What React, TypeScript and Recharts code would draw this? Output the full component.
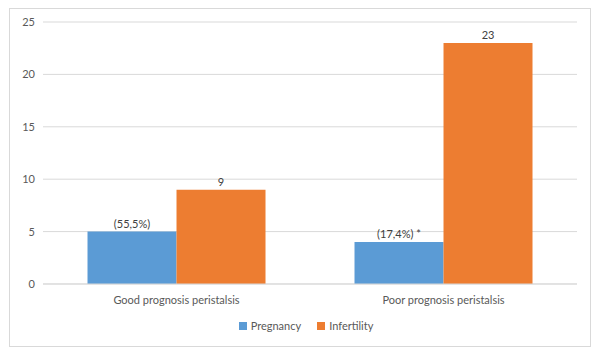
import { Bar, BarChart, CartesianGrid, LabelList, XAxis, YAxis } from "recharts";

const categories = ["Good prognosis peristalsis", "Poor prognosis peristalsis"];
const pregnancy = [5, 4];
const infertility = [9, 23];
const pregnancyLabels = ["(55,5%)", "(17,4%) *"];
const yTicks = [0, 5, 10, 15, 20, 25];
const series = [
  { key: "Pregnancy", color: "#5B9BD5" },
  { key: "Infertility", color: "#ED7D31" }
];

const data = categories.map((name, i) => ({
  name,
  Pregnancy: pregnancy[i],
  Infertility: infertility[i],
  pregLabel: pregnancyLabels[i]
}));

const font = "Lato, 'Liberation Sans', sans-serif";
const textColor = "#595959";

export default function App() {
  return (
    <div style={{ position: "absolute", left: 0, top: 0, width: 600, height: 356, background: "#fff", fontFamily: font }}>
      <div
        style={{
          position: "absolute",
          left: 9,
          top: 8,
          width: 580,
          height: 337,
          border: "1px solid #d9d9d9"
        }}
      />
      <div style={{ position: "absolute", left: 0, top: 0 }}>
        <BarChart
          width={600}
          height={356}
          data={data}
          margin={{ top: 22, right: 23, bottom: 42, left: 0 }}
          barCategoryGap="16.67%"
          barGap={0}
        >
          <CartesianGrid vertical={false} stroke="#d9d9d9" />
          <XAxis
            dataKey="name"
            tickLine={false}
            axisLine={{ stroke: "#d9d9d9" }}
            tick={{ fill: textColor, fontSize: 11, fontFamily: font }}
            tickMargin={6}
            height={30}
          />
          <YAxis
            domain={[0, 25]}
            ticks={yTicks}
            width={43}
            axisLine={false}
            tickLine={false}
            tick={{ fill: textColor, fontSize: 11, fontFamily: font }}
          />
          <Bar dataKey="Pregnancy" fill="#5B9BD5" isAnimationActive={false}>
            <LabelList dataKey="pregLabel" position="top" offset={4} fill="#404040" fontSize={11} fontFamily={font} />
          </Bar>
          <Bar dataKey="Infertility" fill="#ED7D31" isAnimationActive={false}>
            <LabelList dataKey="Infertility" position="top" offset={4} fill="#404040" fontSize={11} fontFamily={font} />
          </Bar>
        </BarChart>
      </div>
      <div
        style={{
          position: "absolute",
          left: 0,
          top: 319,
          width: 628,
          display: "flex",
          justifyContent: "center",
          fontSize: 11,
          color: textColor,
          lineHeight: "14px"
        }}
      >
        {series.map((s) => (
          <div key={s.key} style={{ display: "flex", alignItems: "center", marginRight: 16 }}>
            <span style={{ display: "inline-block", width: 8, height: 8, background: s.color, marginRight: 4 }} />
            <span>{s.key}</span>
          </div>
        ))}
      </div>
    </div>
  );
}
